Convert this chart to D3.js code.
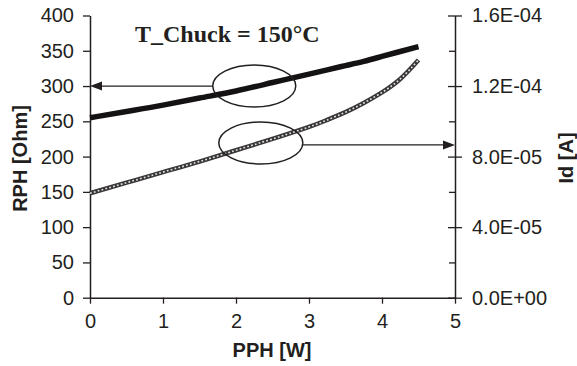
<!DOCTYPE html>
<html>
<head>
<meta charset="utf-8">
<script src="https://cdn.jsdelivr.net/npm/d3@7"></script>
<style>
  html, body { margin: 0; padding: 0; background: #fff; }
  svg { display: block; }
  .tick text { font-family: "Liberation Sans", Arial, sans-serif; font-size: 20px; fill: #231f20; }
</style>
</head>
<body>
<svg id="chart" width="577" height="366"></svg>
<script>
// Heater power sweep at fixed chuck temperature
const pph = [0, 0.5, 1, 1.5, 2, 2.5, 3, 3.25, 3.5, 3.75, 4, 4.25, 4.5];
const rph = [255, 264, 273, 283, 293, 305, 317, 323, 329, 335, 342, 349, 356]; // Ohm
const idA = [5.92e-5, 6.52e-5, 7.12e-5, 7.72e-5, 8.36e-5, 9.0e-5, 9.68e-5,
             1.008e-4, 1.052e-4, 1.104e-4, 1.164e-4, 1.24e-4, 1.348e-4];      // A
const xTicks = [0, 1, 2, 3, 4, 5];
const yLeftTicks = [0, 50, 100, 150, 200, 250, 300, 350, 400];
const yRightMajor = [0, 4e-5, 8e-5, 1.2e-4, 1.6e-4];
const yRightMinor = [2e-5, 6e-5, 1e-4, 1.4e-4];
const title = "T_Chuck = 150°C";
const xLabel = "PPH [W]", yLeftLabel = "RPH [Ohm]", yRightLabel = "Id [A]";
// callouts: value each arrow points to on its own axis
const rphCallout = { value: 300, ppx: 2.25 };
const idCallout = { value: 8.66e-5, ppx: 2.34 };

const ink = "#231f20";
const svg = d3.select("#chart");

const x = d3.scaleLinear().domain([0, 5]).range([90, 455]);
const yL = d3.scaleLinear().domain([0, 400]).range([297.7, 15.5]);
const yR = d3.scaleLinear().domain([0, 1.6e-4]).range([297.7, 15.5]);

const sci = v => {
  if (v === 0) return "0.0E+00";
  const e = Math.floor(Math.log10(v) + 1e-9);
  const m = v / Math.pow(10, e);
  const sign = e < 0 ? "-" : "+";
  return m.toFixed(1) + "E" + sign + String(Math.abs(e)).padStart(2, "0");
};

function styleAxis(g) {
  g.selectAll("path.domain").attr("stroke", ink).attr("stroke-width", 1.5);
  g.selectAll(".tick line").attr("stroke", ink).attr("stroke-width", 1.3);
}

// Left axis
svg.append("g").attr("transform", `translate(${x(0)},0)`)
  .call(d3.axisLeft(yL).tickValues(yLeftTicks).tickSize(7).tickSizeOuter(0).tickPadding(9))
  .call(styleAxis);

// Bottom axis
svg.append("g").attr("transform", `translate(0,${yL(0)})`)
  .call(d3.axisBottom(x).tickValues(xTicks).tickFormat(d3.format("d")).tickSize(6).tickSizeOuter(0).tickPadding(10))
  .call(styleAxis);

// Right axis: crossing major ticks, inward minor ticks
const gR = svg.append("g").attr("transform", `translate(${x(5)},0)`)
  .call(d3.axisRight(yR).tickValues(yRightMajor).tickFormat(sci).tickSize(7).tickSizeOuter(0).tickPadding(10))
  .call(styleAxis);
gR.selectAll(".tick").append("line").attr("x1", -7).attr("x2", 0)
  .attr("stroke", ink).attr("stroke-width", 1.3);
svg.append("g").attr("transform", `translate(${x(5)},0)`)
  .call(d3.axisLeft(yR).tickValues(yRightMinor).tickFormat("").tickSize(6).tickSizeOuter(0))
  .call(g => g.select("path.domain").remove())
  .call(styleAxis);

// Series
const line = d3.line().curve(d3.curveNatural);
const rphPts = pph.map((p, i) => [x(p), yL(rph[i])]);
const idPts = pph.map((p, i) => [x(p), yR(idA[i])]);

svg.append("path").attr("d", line(rphPts))
  .attr("fill", "none").attr("stroke", "#141213").attr("stroke-width", 5.5);

svg.append("path").attr("d", line(idPts))
  .attr("fill", "none").attr("stroke", "#3a3738").attr("stroke-width", 4.5);
svg.append("path").attr("d", line(idPts))
  .attr("fill", "none").attr("stroke", "#fff").attr("stroke-width", 1.6)
  .attr("stroke-dasharray", "1.8,2.2").attr("opacity", 0.85);

// Callouts: ellipse + arrow to the relevant axis
function arrowHead(tipX, tipY, dir) {
  const len = 12, half = 4.5;
  svg.append("path")
    .attr("d", `M${tipX},${tipY} L${tipX - dir * len},${tipY - half} L${tipX - dir * len},${tipY + half} Z`)
    .attr("fill", ink);
}

const e1 = { cx: x(rphCallout.ppx), cy: yL(rphCallout.value), rx: 41.5, ry: 21 };
svg.append("ellipse").attr("cx", e1.cx).attr("cy", e1.cy).attr("rx", e1.rx).attr("ry", e1.ry)
  .attr("fill", "none").attr("stroke", ink).attr("stroke-width", 1.5);
svg.append("line").attr("x1", e1.cx - e1.rx).attr("x2", x(0) + 8)
  .attr("y1", e1.cy).attr("y2", e1.cy).attr("stroke", ink).attr("stroke-width", 1.3);
arrowHead(x(0), e1.cy, -1);

const e2 = { cx: x(idCallout.ppx), cy: yR(idCallout.value) - 2, rx: 42, ry: 21 };
svg.append("ellipse").attr("cx", e2.cx).attr("cy", e2.cy).attr("rx", e2.rx).attr("ry", e2.ry)
  .attr("fill", "none").attr("stroke", ink).attr("stroke-width", 1.5);
const a2y = yR(idCallout.value);
svg.append("line").attr("x1", e2.cx + Math.sqrt(1 - Math.pow((a2y - e2.cy) / e2.ry, 2)) * e2.rx)
  .attr("x2", x(5) - 8).attr("y1", a2y).attr("y2", a2y).attr("stroke", ink).attr("stroke-width", 1.3);
arrowHead(x(5), a2y, 1);

// Titles
svg.append("text").attr("x", 135).attr("y", 42)
  .attr("font-family", "'Liberation Serif', 'Times New Roman', serif")
  .attr("font-weight", "bold").attr("font-size", 24).attr("fill", ink)
  .text(title);

svg.append("text").attr("x", 272).attr("y", 357).attr("text-anchor", "middle")
  .attr("font-family", "'Liberation Sans', Arial, sans-serif")
  .attr("font-weight", "bold").attr("font-size", 20).attr("fill", ink)
  .text(xLabel);

svg.append("text").attr("transform", "translate(27,158.5) rotate(-90)").attr("text-anchor", "middle")
  .attr("font-family", "'Liberation Sans', Arial, sans-serif")
  .attr("font-weight", "bold").attr("font-size", 20).attr("fill", ink)
  .text(yLeftLabel);

svg.append("text").attr("transform", "translate(573,158) rotate(-90)").attr("text-anchor", "middle")
  .attr("font-family", "'Liberation Sans', Arial, sans-serif")
  .attr("font-weight", "bold").attr("font-size", 20).attr("fill", ink)
  .text(yRightLabel);
</script>
</body>
</html>
